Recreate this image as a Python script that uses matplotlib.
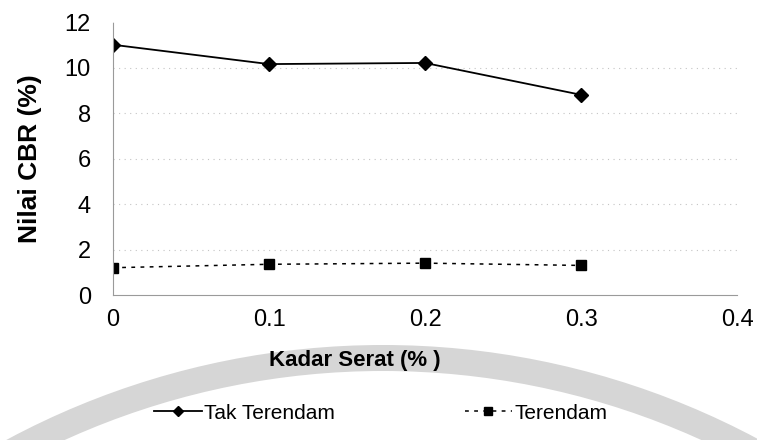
import matplotlib
matplotlib.use("Agg")
import matplotlib.pyplot as plt
from matplotlib.patches import Wedge

# data
kadar_serat = [0, 0.1, 0.2, 0.3]
tak_terendam = [11.0, 10.15, 10.2, 8.8]
terendam = [1.2, 1.35, 1.4, 1.3]

x_ticks = [0, 0.1, 0.2, 0.3, 0.4]
x_labels = ["0", "0.1", "0.2", "0.3", "0.4"]
y_ticks = [0, 2, 4, 6, 8, 10, 12]

plt.rcParams['font.family'] = ['Liberation Sans', 'DejaVu Sans']

W, H = 757, 440
fig = plt.figure(figsize=(W / 100, H / 100), dpi=100)

# faint ring of the scanned page watermark
bg = fig.add_axes([0, 0, 1, 1], zorder=-5)
bg.set_xlim(0, W)
bg.set_ylim(H, 0)
bg.axis('off')
bg.add_patch(Wedge((383, 1140), 795, 180, 360, width=26, color='#d6d6d6', lw=0))

ax = fig.add_axes([113 / W, 1 - 295 / H, (737 - 113) / W, (295 - 22) / H])
ax.patch.set_alpha(0)

ax.plot(kadar_serat, tak_terendam, color='black', lw=1.3, marker='D', ms=7,
        label='Tak Terendam')
ax.plot(kadar_serat, terendam, color='black', lw=1.1, ls=(0, (2.5, 3.5)), marker='s', ms=7,
        label='Terendam')

ax.set_xlim(0, 0.4)
ax.set_ylim(0, 12)
ax.set_xticks(x_ticks)
ax.set_xticklabels(x_labels)
ax.set_yticks(y_ticks)
ax.tick_params(axis='both', length=0, labelsize=17)
ax.tick_params(axis='x', pad=10)
ax.tick_params(axis='y', pad=16)

for v in y_ticks[1:-1]:
    ax.axhline(v, color='#c4c4c4', lw=0.8, ls=(0, (1, 4)), zorder=0)

ax.spines['top'].set_visible(False)
ax.spines['right'].set_visible(False)
ax.spines['left'].set_color('#9a9a9a')
ax.spines['left'].set_linestyle((0, (2, 1)))
ax.spines['left'].set_linewidth(0.8)
ax.spines['bottom'].set_color('#9a9a9a')
ax.spines['bottom'].set_linewidth(0.8)

ax.set_ylabel("Nilai CBR (%)", fontsize=19, fontweight='bold')
ax.yaxis.set_label_coords(-0.114, 0.5)
ax.set_xlabel("Kadar Serat (% )", fontsize=16, fontweight='bold')
ax.xaxis.set_label_coords(0.388, -0.2)

fig.legend(loc='center', bbox_to_anchor=(381 / W, 1 - 413 / H), ncol=2, frameon=False,
           fontsize=15, handlelength=2.3, handletextpad=0.1, columnspacing=6.2,
           markerscale=0.75)

fig.savefig("out.png", dpi=100)
